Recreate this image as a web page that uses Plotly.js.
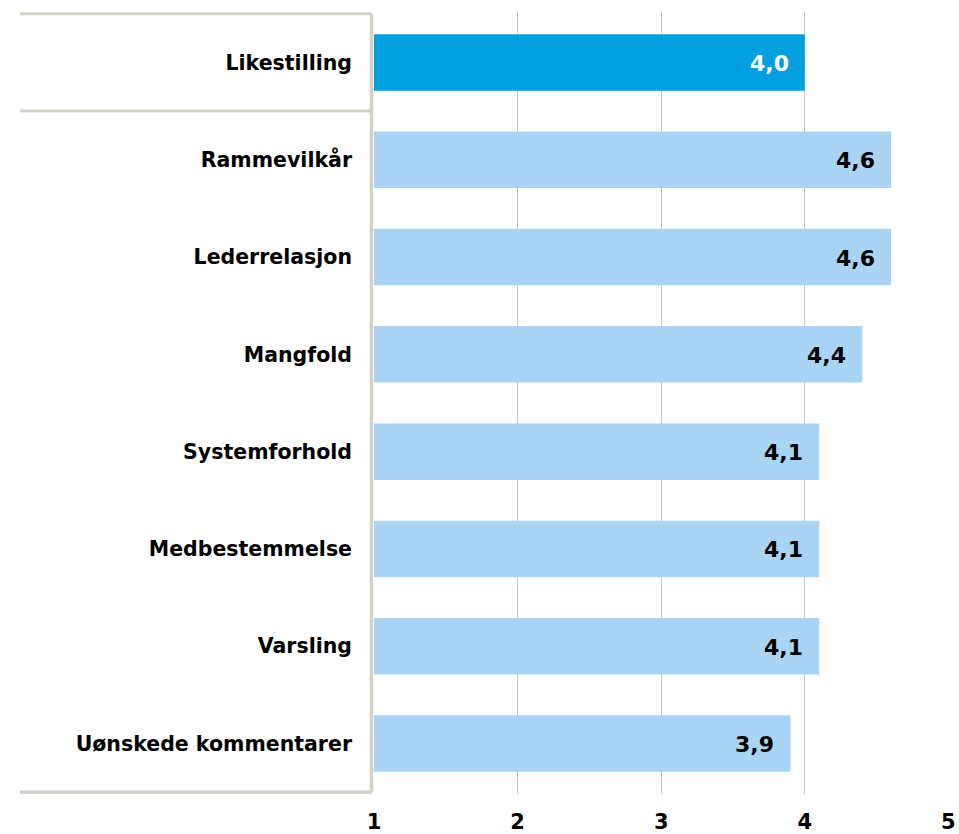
<!DOCTYPE html>
<html>
<head>
<meta charset="utf-8">
<script src="https://cdn.plot.ly/plotly-3.0.1.min.js"></script>
<style>html,body{margin:0;padding:0;background:#fff}#chart{width:959px;height:834px}</style>
</head>
<body>
<div id="chart"></div>
<script>
const categories = ["Likestilling","Rammevilkår","Lederrelasjon","Mangfold","Systemforhold","Medbestemmelse","Varsling","Uønskede kommentarer"];
const values = [4.0, 4.6, 4.6, 4.4, 4.1, 4.1, 4.1, 3.9];
const barColors = ["#009fe0","#a9d4f4","#a9d4f4","#a9d4f4","#a9d4f4","#a9d4f4","#a9d4f4","#a9d4f4"];
const labelColors = ["#ffffff","#000000","#000000","#000000","#000000","#000000","#000000","#000000"];
const xTicks = [1,2,3,4,5];

const FONT = "DejaVu Sans, Verdana, sans-serif";
const frameColor = "#d2d2ca";

const trace = {
  type: "bar",
  orientation: "h",
  y: categories,
  x: values.map(v => v - 1),
  base: 1,
  marker: {color: barColors, line: {width: 0}},
  hoverinfo: "skip",
  showlegend: false
};

const annotations = values.map((v, i) => ({
  x: v, y: categories[i], xref: "x", yref: "y",
  text: v.toFixed(1).replace(".", ","),
  xanchor: "right", yanchor: "middle", xshift: -14, yshift: -1,
  showarrow: false,
  font: {family: FONT, size: 22, color: labelColors[i], weight: "bold"}
}));

const lx = (20 - 374) / 575;
const vx = -2.5 / 575;
const shapes = [
  {type: "line", xref: "paper", yref: "y", x0: vx, x1: vx, y0: -0.5, y1: 7.5, line: {color: frameColor, width: 3.5}},
  {type: "line", xref: "paper", yref: "y", x0: lx, x1: vx, y0: -0.5, y1: -0.5, line: {color: frameColor, width: 3}},
  {type: "line", xref: "paper", yref: "y", x0: lx, x1: vx, y0: 0.5, y1: 0.5, line: {color: frameColor, width: 3}},
  {type: "line", xref: "paper", yref: "y", x0: lx, x1: vx, y0: 7.5, y1: 7.5, line: {color: frameColor, width: 3.5}}
];

const layout = {
  width: 959, height: 834,
  margin: {l: 374, r: 10, t: 12, b: 40},
  paper_bgcolor: "#ffffff", plot_bgcolor: "#ffffff",
  bargap: 0.42,
  font: {family: FONT, color: "#000000"},
  xaxis: {
    range: [1, 5.004],
    tickvals: xTicks,
    ticktext: xTicks.map(String),
    showgrid: true, gridcolor: "#c8c8c0", gridwidth: 1,
    zeroline: false, showline: false, ticks: "",
    ticklabelstandoff: 13,
    tickfont: {family: FONT, size: 21, color: "#000000", weight: "bold"},
    fixedrange: true
  },
  yaxis: {
    type: "category",
    autorange: "reversed",
    showgrid: false, zeroline: false, showline: false, ticks: "",
    ticklabelstandoff: 21,
    tickfont: {family: FONT, size: 20.5, color: "#000000", weight: "bold"},
    fixedrange: true
  },
  shapes: shapes,
  annotations: annotations
};

Plotly.newPlot("chart", [trace], layout, {displayModeBar: false, staticPlot: true});
</script>
</body>
</html>
